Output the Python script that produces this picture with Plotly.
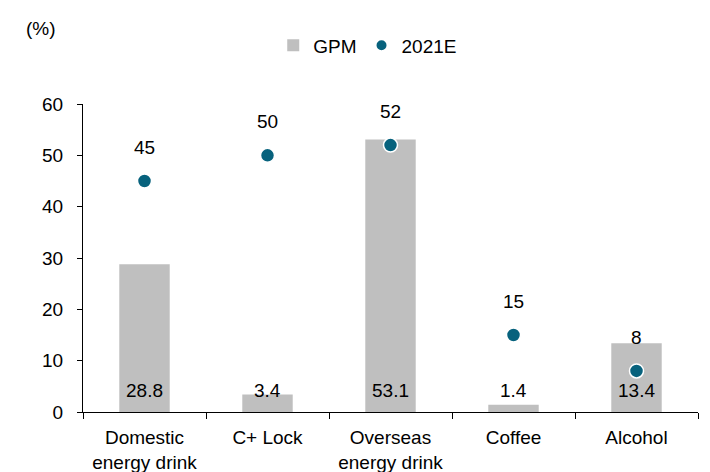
import plotly.graph_objects as go

categories = ["Domestic<br>energy drink", "C+ Lock", "Overseas<br>energy drink", "Coffee", "Alcohol"]
gpm = [28.8, 3.4, 53.1, 1.4, 13.4]
est_2021 = [45, 50, 52, 15, 8]
y_ticks = [0, 10, 20, 30, 40, 50, 60]

FONT = "Liberation Sans, Arial, sans-serif"
FS = 19
BAR_COLOR = "#BFBFBF"
DOT_COLOR = "#07627D"

fig = go.Figure()
fig.add_trace(go.Bar(
    x=categories, y=gpm, name="GPM",
    marker=dict(color=BAR_COLOR, line=dict(width=0)),
    width=0.41,
))
fig.add_trace(go.Scatter(
    x=categories, y=est_2021, name="2021E", mode="markers",
    marker=dict(color=DOT_COLOR, size=14, line=dict(color="white", width=1.5)),
))

# value labels: GPM at the base of each bar, 2021E above each dot
for cat, v in zip(categories, gpm):
    fig.add_annotation(x=cat, y=0, text=f"{v:.1f}", showarrow=False,
                       yanchor="bottom", yshift=9,
                       font=dict(family=FONT, size=FS, color="black"))
for cat, v in zip(categories, est_2021):
    fig.add_annotation(x=cat, y=v, text=f"{v:d}", showarrow=False,
                       yanchor="bottom", yshift=21,
                       font=dict(family=FONT, size=FS, color="black"))

fig.add_annotation(xref="paper", yref="paper", x=-0.096, y=1.245,
                   xanchor="left", yanchor="middle", text="(%)", showarrow=False,
                   font=dict(family=FONT, size=FS, color="black"))

fig.update_layout(
    width=710, height=472,
    margin=dict(l=83, r=12, t=104, b=60),
    paper_bgcolor="white", plot_bgcolor="white",
    font=dict(family=FONT, size=FS, color="black"),
    showlegend=True,
    legend=dict(orientation="h", x=0.463, xanchor="center", y=1.19, yanchor="middle",
                font=dict(family=FONT, size=FS, color="black"),
                itemsizing="constant", itemwidth=30, traceorder="normal",
                tracegroupgap=0),
    bargap=0.59,
)
fig.update_xaxes(
    automargin=False,
    showline=True, linecolor="black", linewidth=1,
    ticks="outside", tickson="boundaries", ticklen=6, tickcolor="black",
    ticklabelstandoff=8,
    showgrid=False, tickfont=dict(family=FONT, size=FS, color="black"),
)
fig.update_yaxes(
    automargin=False,
    range=[0, 60], tickvals=y_ticks, showline=True, linecolor="black", linewidth=1,
    ticks="outside", ticklen=5, tickcolor="black", showgrid=False, zeroline=False,
    ticklabelstandoff=10,
    tickfont=dict(family=FONT, size=FS, color="black"),
)

fig.write_html("out.html")
